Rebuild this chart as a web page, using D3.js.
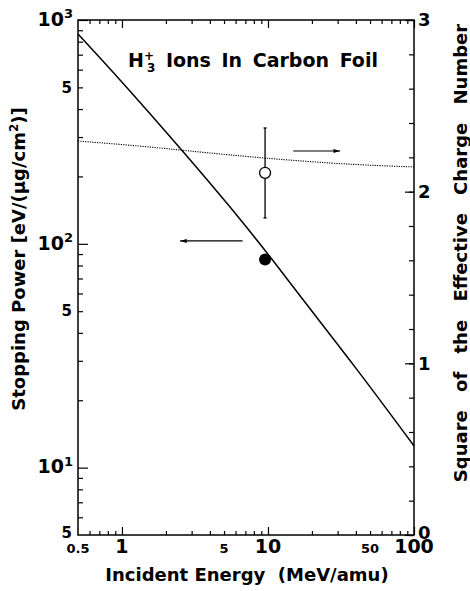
<!DOCTYPE html>
<html>
<head>
<meta charset="utf-8">
<script src="https://cdn.jsdelivr.net/npm/d3@7"></script>
<style>
body { margin: 0; background: #fff; }
text { font-family: "DejaVu Sans", sans-serif; font-weight: bold; fill: #000; }
</style>
</head>
<body>
<div class="chart"></div>
<script>
// values
var curveEnergy = [0.5, 0.97, 2.03, 5.5, 12.1, 17.4, 40.7, 100];
var curvePower = [866, 540, 313, 146, 76.6, 56.2, 27.4, 12.5];

var chargeEnergy = [0.5, 1.55, 5.5, 26.7, 100];
var chargeSquare = [2.295, 2.26, 2.214, 2.167, 2.144];

var measEnergy = 9.55;
var measPower = 85;
var measPowerErr = [81, 89];
var measCharge = 2.11;
var measChargeErr = [1.847, 2.371];

// arrows: [E from, E to, value]
var arrowPower = [6.7, 2.5, 103];
var arrowCharge = [14.9, 31.2, 2.237];

var xLabels = [0.5, 1, 5, 10, 50, 100];
var xMinor = [0.6, 0.7, 0.8, 0.9, 2, 3, 4, 5, 6, 7, 8, 9, 20, 30, 40, 50, 60, 70, 80, 90];
var xMajor = [1, 10, 100];
var yLabels = [5, 10, 50, 100, 500, 1000];
var yMinor = [6, 7, 8, 9, 20, 30, 40, 50, 60, 70, 80, 90, 200, 300, 400, 500, 600, 700, 800, 900];
var yMajor = [10, 100, 1000];
var rLabels = [0, 1, 2, 3];
var rMinor = d3.range(0, 3.01, 0.2);

var svgWidth = 470;
var svgHeight = 591;
var margin = { top: 20, right: 56, bottom: 56, left: 78 };
var width = svgWidth - margin.left - margin.right;
var height = svgHeight - margin.top - margin.bottom;

var svg = d3.select(".chart")
  .append("svg")
  .attr("width", svgWidth)
  .attr("height", svgHeight);

var chartGroup = svg.append("g")
  .attr("transform", `translate(${margin.left}, ${margin.top})`);

// scales
var xScale = d3.scaleLog().domain([0.5, 100]).range([0, width]);
var yScale = d3.scaleLog().domain([5, 1000]).range([height, 0]);
var rScale = d3.scaleLinear().domain([0, 3]).range([height, 0]);

// tick helper, ticks point inward and labels are added by hand
function addTicks(axis, values, size, transform) {
  var g = chartGroup.append("g")
    .attr("transform", transform)
    .call(axis.tickValues(values).tickSizeInner(size).tickSizeOuter(0).tickFormat(""));
  g.select(".domain").remove();
  g.selectAll("line").attr("stroke", "#000").attr("stroke-width", 1.2);
}

addTicks(d3.axisBottom(xScale), xMinor, -4, `translate(0, ${height})`);
addTicks(d3.axisBottom(xScale), xMajor, -8, `translate(0, ${height})`);
addTicks(d3.axisTop(xScale), xMinor, -4, "translate(0, 0)");
addTicks(d3.axisTop(xScale), xMajor, -8, "translate(0, 0)");
addTicks(d3.axisLeft(yScale), yMinor, -5, "translate(0, 0)");
addTicks(d3.axisLeft(yScale), yMajor, -10, "translate(0, 0)");
addTicks(d3.axisRight(rScale), rMinor, -5, `translate(${width}, 0)`);
addTicks(d3.axisRight(rScale), rLabels, -9, `translate(${width}, 0)`);

// frame
chartGroup.append("rect")
  .attr("width", width)
  .attr("height", height)
  .attr("fill", "none")
  .attr("stroke", "#000")
  .attr("stroke-width", 1.5);

// x tick labels
chartGroup.selectAll(".xlab")
  .data(xLabels)
  .enter()
  .append("text")
  .attr("class", "xlab")
  .attr("x", d => xScale(d))
  .attr("y", height + 18)
  .attr("text-anchor", "middle")
  .attr("font-size", d => xMajor.indexOf(d) >= 0 ? 19 : 13)
  .text(d => d);

// left tick labels
yLabels.forEach(function(d) {
  var t = chartGroup.append("text")
    .attr("x", -5)
    .attr("y", yScale(d))
    .attr("text-anchor", "end");
  if (yMajor.indexOf(d) >= 0) {
    t.attr("dy", "0.3em").attr("font-size", 19);
    t.append("tspan").text("10");
    t.append("tspan").attr("font-size", 13).attr("dy", "-0.6em").text(Math.log10(d));
  }
  else {
    t.attr("dy", d === 5 ? "0.2em" : "0.35em").attr("font-size", 15).attr("x", -6).text("5");
  }
});

// right tick labels
chartGroup.selectAll(".rlab")
  .data(rLabels)
  .enter()
  .append("text")
  .attr("class", "rlab")
  .attr("x", width + 4)
  .attr("y", d => rScale(d))
  .attr("dy", d => d === 0 ? "0.2em" : "0.36em")
  .attr("font-size", 18)
  .text(d => d);

// stopping power curve
var powerLine = d3.line()
  .x(d => xScale(d[0]))
  .y(d => yScale(d[1]))
  .curve(d3.curveNatural);

chartGroup.append("path")
  .datum(d3.zip(curveEnergy, curvePower))
  .attr("d", powerLine)
  .attr("fill", "none")
  .attr("stroke", "#000")
  .attr("stroke-width", 1.5);

// effective charge curve (dotted)
var chargeLine = d3.line()
  .x(d => xScale(d[0]))
  .y(d => rScale(d[1]))
  .curve(d3.curveNatural);

chartGroup.append("path")
  .datum(d3.zip(chargeEnergy, chargeSquare))
  .attr("d", chargeLine)
  .attr("fill", "none")
  .attr("stroke", "#000")
  .attr("stroke-width", 1.1)
  .attr("stroke-dasharray", "1.2,1.2");

// open point with error bar
var ox = xScale(measEnergy);
chartGroup.append("line")
  .attr("x1", ox).attr("x2", ox)
  .attr("y1", rScale(measChargeErr[0])).attr("y2", rScale(measChargeErr[1]))
  .attr("stroke", "#000").attr("stroke-width", 1.3);
measChargeErr.forEach(function(v) {
  chartGroup.append("line")
    .attr("x1", ox - 1.5).attr("x2", ox + 1.5)
    .attr("y1", rScale(v)).attr("y2", rScale(v))
    .attr("stroke", "#000").attr("stroke-width", 1.3);
});
chartGroup.append("circle")
  .attr("cx", ox)
  .attr("cy", rScale(measCharge))
  .attr("r", 5.5)
  .attr("fill", "#fff")
  .attr("stroke", "#000")
  .attr("stroke-width", 1.3);

// filled point
chartGroup.append("line")
  .attr("x1", ox).attr("x2", ox)
  .attr("y1", yScale(measPowerErr[0])).attr("y2", yScale(measPowerErr[1]))
  .attr("stroke", "#000").attr("stroke-width", 2);
chartGroup.append("circle")
  .attr("cx", ox)
  .attr("cy", yScale(measPower))
  .attr("r", 6)
  .attr("fill", "#000");

// arrows
svg.append("defs").append("marker")
  .attr("id", "head")
  .attr("viewBox", "0 0 10 6")
  .attr("refX", 10)
  .attr("refY", 3)
  .attr("markerWidth", 10)
  .attr("markerHeight", 4)
  .attr("markerUnits", "userSpaceOnUse")
  .attr("orient", "auto")
  .append("path")
  .attr("d", "M0,0L10,3L0,6Z")
  .attr("fill", "#000");

chartGroup.append("line")
  .attr("x1", xScale(arrowPower[0])).attr("x2", xScale(arrowPower[1]))
  .attr("y1", yScale(arrowPower[2])).attr("y2", yScale(arrowPower[2]))
  .attr("stroke", "#000").attr("stroke-width", 1.2)
  .attr("marker-end", "url(#head)");

chartGroup.append("line")
  .attr("x1", xScale(arrowCharge[0])).attr("x2", xScale(arrowCharge[1]))
  .attr("y1", rScale(arrowCharge[2])).attr("y2", rScale(arrowCharge[2]))
  .attr("stroke", "#000").attr("stroke-width", 1.2)
  .attr("marker-end", "url(#head)");

// title inside plot
var title = chartGroup.append("text")
  .attr("x", 50)
  .attr("y", 47)
  .attr("font-size", 19)
  .attr("word-spacing", 4);
title.append("tspan").text("H");
title.append("tspan").attr("font-size", 12).attr("dy", -7).text("+");
title.append("tspan").attr("font-size", 12).attr("dx", -7).attr("dy", 12).text("3");
title.append("tspan").attr("dy", -5).text(" Ions In Carbon Foil");

// axis titles
svg.append("text")
  .attr("x", 247)
  .attr("y", 581)
  .attr("text-anchor", "middle")
  .attr("font-size", 18)
  .attr("xml:space", "preserve")
  .text("Incident Energy  (MeV/amu)");

var yTitle = svg.append("text")
  .attr("transform", "translate(25, 259) rotate(-90)")
  .attr("text-anchor", "middle")
  .attr("font-size", 18);
yTitle.append("tspan").text("Stopping Power [eV/(\u03bcg/cm");
yTitle.append("tspan").attr("font-size", 12).attr("dy", -7).text("2");
yTitle.append("tspan").attr("dy", 7).text(")]");

svg.append("text")
  .attr("transform", "translate(467, 253) rotate(-90)")
  .attr("text-anchor", "middle")
  .attr("font-size", 18)
  .attr("word-spacing", 12)
  .text("Square of the Effective Charge Number");
</script>
</body>
</html>
